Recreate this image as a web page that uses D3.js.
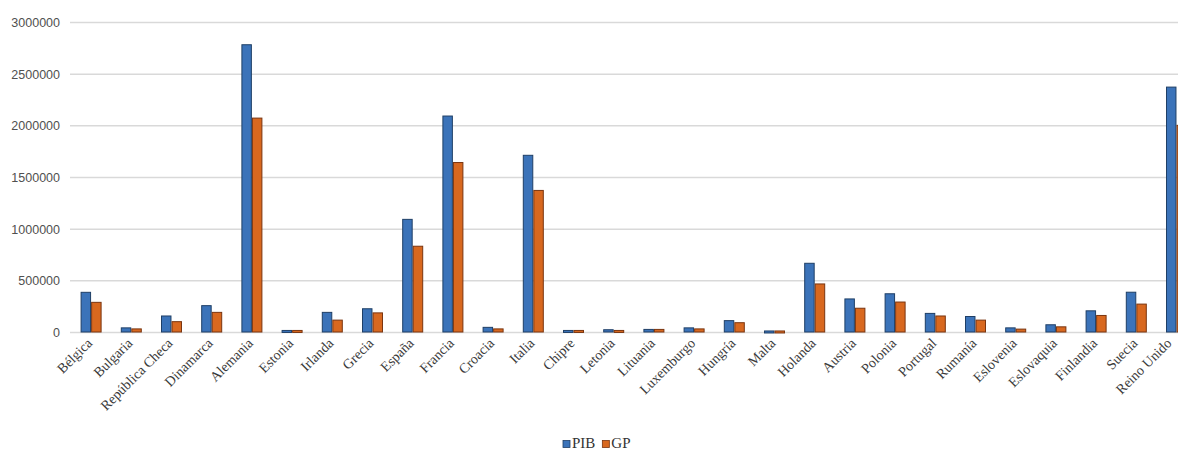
<!DOCTYPE html>
<html>
<head>
<meta charset="utf-8">
<script src="https://cdn.jsdelivr.net/npm/d3@7"></script>
<style>
	body{margin:0;background:#fff;overflow:hidden;}
	svg{display:block;}
</style>
</head>
<body>
<div id="chart"></div>
<script>
// datos
var paises = ["Bélgica","Bulgaria","República Checa","Dinamarca","Alemania","Estonia","Irlanda","Grecia","España","Francia","Croacia","Italia","Chipre","Letonia","Lituania","Luxemburgo","Hungría","Malta","Holanda","Austria","Polonia","Portugal","Rumanía","Eslovenia","Eslovaquia","Finlandia","Suecia","Reino Unido"];
var pib = [384000,40000,155000,255000,2780000,15000,190000,225000,1090000,2090000,45000,1710000,15000,22000,25000,40000,110000,10000,665000,320000,370000,180000,150000,40000,70000,205000,385000,2370000];
var gp = [287000,30000,100000,190000,2070000,15000,115000,185000,830000,1640000,30000,1370000,15000,15000,25000,30000,90000,10000,465000,230000,290000,155000,115000,28000,50000,160000,270000,2000000];
var yTicks = [0,500000,1000000,1500000,2000000,2500000,3000000];
var series = [{"name":"PIB","values":pib,"color":"#3b73b9","stroke":"#1f3f66"},{"name":"GP","values":gp,"color":"#d8681f","stroke":"#7a3510"}];

var W = 1178, H = 453;
var svg = d3.select("#chart").append("svg").attr("width",W).attr("height",H);

// escalas (el gráfico original está recortado por la derecha)
var x = d3.scaleBand().domain(paises).range([71,71+28*40.2]).paddingInner(0).paddingOuter(0);
var x1 = d3.scaleBand().domain(series.map((s)=>s.name)).range([x.bandwidth()/2-10,x.bandwidth()/2+10]).paddingInner(0.1);
var y = d3.scaleLinear().domain([0,3000000]).range([332,22]);

// líneas de cuadrícula
svg.append("g").selectAll("line").data(yTicks).enter().append("line")
	.attr("x1",70).attr("x2",W)
	.attr("y1",(d)=>y(d)+0.5).attr("y2",(d)=>y(d)+0.5)
	.attr("stroke","#d9d9d9").attr("stroke-width",1.5);

// eje y
var yAxis = d3.axisLeft(y).tickValues(yTicks).tickSize(0).tickPadding(0).tickFormat(d3.format("d"));
svg.append("g").attr("transform","translate(60,0)").call(yAxis)
	.call((g)=>g.select(".domain").remove())
	.selectAll("text").attr("font-family","'Liberation Sans', Arial, sans-serif").attr("font-size","12.5px").attr("fill","#505050").attr("dy","0.35em");

// barras
var grupos = svg.append("g").selectAll("g").data(paises).enter().append("g")
	.attr("transform",(d)=>"translate("+x(d)+",0)");
grupos.selectAll("rect").data((d,i)=>series.map((s)=>({"serie":s,"v":s.values[i]}))).enter().append("rect")
	.attr("x",(d)=>x1(d.serie.name))
	.attr("width",x1.bandwidth())
	.attr("y",(d)=>y(d.v))
	.attr("height",(d)=>Math.max(2,y(0)-y(d.v)))
	.attr("fill",(d)=>d.serie.color)
	.attr("stroke",(d)=>d.serie.stroke).attr("stroke-width",1);

// eje x
var xAxis = d3.axisBottom(x).tickSize(0).tickPadding(0);
svg.append("g").attr("transform","translate(0,332)").call(xAxis)
	.call((g)=>g.select(".domain").remove())
	.selectAll("text")
	.attr("font-family","'Liberation Serif', 'DejaVu Serif', serif").attr("font-size","14px").attr("fill","#3a3a3a")
	.attr("text-anchor","end").attr("dy",0).attr("y",0)
	// la última etiqueta se corre un poco para que quepa en el borde
	.attr("transform",(d,i)=>(i==paises.length-1) ? "translate(-4,12) rotate(-45)" : "translate(2,12) rotate(-45)");

// leyenda
var leyenda = svg.append("g").attr("transform","translate(563,448)");
var lx = 0;
series.forEach(function(s){
	leyenda.append("rect").attr("x",lx).attr("y",-7.5).attr("width",7).attr("height",7).attr("fill",s.color).attr("stroke",s.stroke).attr("stroke-width",0.8);
	var t = leyenda.append("text").attr("x",lx+9).attr("y",0).text(s.name)
		.attr("font-family","'Liberation Serif', 'DejaVu Serif', serif").attr("font-size","15px").attr("fill","#333");
	lx += 9 + t.node().getComputedTextLength() + 7;
});
</script>
</body>
</html>
